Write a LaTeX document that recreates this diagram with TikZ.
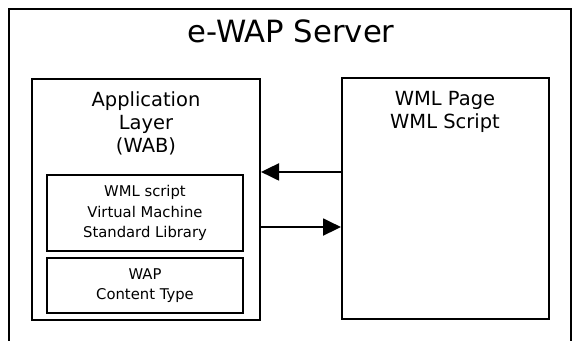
\documentclass[tikz,border=0pt]{standalone}
\usepackage{fontspec}
\setmainfont{DejaVu Sans}
\usetikzlibrary{arrows.meta, positioning}
\tikzset{
  % contorno del server (aperto in basso)
  srvbox/.style={draw=black, line width=1.5pt, minimum width=421.5pt,
    minimum height=250.5pt, inner sep=0pt},
  % blocchi principali
  bigbox/.style={draw=black, line width=1.5pt, minimum width=171pt,
    minimum height=180.75pt, inner sep=0pt},
  % moduli interni dello strato applicativo
  modbox/.style={draw=black, line width=1.3pt, minimum width=147pt,
    align=center, inner sep=0pt, font=\fontsize{11.1}{15.2}\selectfont},
  % testi
  ttl/.style={font=\fontsize{23}{27}\selectfont, inner sep=0pt},
  lbl/.style={font=\fontsize{14.6}{17.3}\selectfont, align=center, inner sep=0pt},
  % frecce di scambio
  flow/.style={line width=1.5pt, -{Triangle[length=13.5pt, width=12.75pt]}},
}
\begin{document}
\begin{tikzpicture}[x=0.75pt, y=-0.75pt]
  \useasboundingbox (0,0) rectangle (576,341);
  \node[srvbox] (server) at (290,176) {};
  \node[ttl, anchor=base] (title) at (291,43) {e-WAP Server};
  \node[bigbox] (app) at (146,199.5) {};
  \node[bigbox, minimum width=155.25pt] (wml) at (445.5,198.5) {};
  \node[lbl, anchor=north] (applbl) at (146,91) {Application\\Layer\\(WAB)};
  \node[lbl, anchor=north] (wmllbl) at (445,91) {WML Page\\WML Script};
  \node[modbox, minimum height=57pt] (vm) at (145,213)
    {WML script\\Virtual Machine\\Standard Library};
  \node[modbox, minimum height=41.25pt] (ctype) at (145,285.5)
    {WAP\\Content Type};
  \coordinate (inA) at ([yshift=19.9pt]wml.west);
  \coordinate (outA) at ([yshift=-21.4pt]wml.west -| app.east);
  \draw[flow] (inA) -- (inA -| app.east);
  \draw[flow] (outA) -- (outA -| wml.west);
\end{tikzpicture}
\end{document}
